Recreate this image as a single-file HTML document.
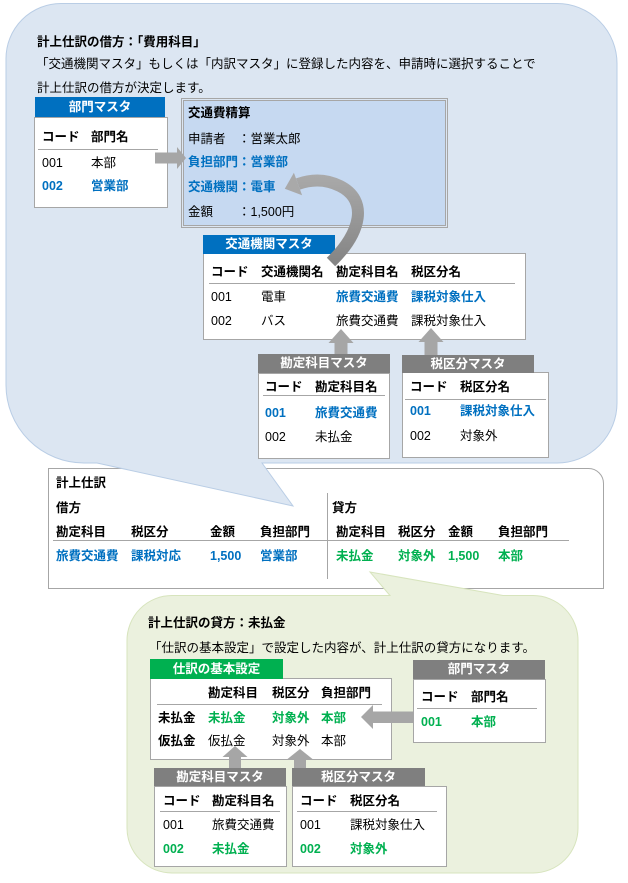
<!DOCTYPE html>
<html><head><meta charset="utf-8">
<style>
html,body{margin:0;padding:0;background:#fff;}
body{width:628px;height:883px;position:relative;overflow:hidden;font-family:"Liberation Sans","Noto Sans CJK JP",sans-serif;color:#000;}
.t{position:absolute;white-space:nowrap;font-size:12.5px;line-height:16px;height:16px;z-index:3;}
.b{font-weight:bold;}
.bl{color:#0070c0;font-weight:bold;}
.gr{color:#00b050;font-weight:bold;}
.h{position:absolute;color:#fff;font-weight:bold;font-size:12.5px;text-align:center;white-space:nowrap;z-index:2;}
.hb{background:#0070c0;}
.hg{background:#7f7f7f;}
.hn{background:#00b050;}
.bx{position:absolute;background:#fff;border:1px solid #a6a6a6;box-sizing:border-box;z-index:1;}
.ln{position:absolute;height:1px;background:#a6a6a6;z-index:2;}
svg{position:absolute;left:0;top:0;}
</style></head><body>

<svg width="628" height="883" style="z-index:0">
  <path d="M48.5,468.5 H588.5 A15 15 0 0 1 603.5,483.5 V588.5 H48.5 Z" fill="#fff" stroke="#a6a6a6"/>
  <path d="M61,3.5 H557 A60 60 0 0 1 617,63.5 V403 A60 60 0 0 1 557,463 H262 L293,506 L97,463 H84 A78 78 0 0 1 6,385 V58.5 A55 55 0 0 1 61,3.5 Z" fill="#dce6f2" stroke="#b9cde5"/>
  <path d="M172,595.5 H390 L370,572 L503,595.5 H533 A45 45 0 0 1 578,640.5 V828 A45 45 0 0 1 533,873 H172 A45 45 0 0 1 127,828 V640.5 A45 45 0 0 1 172,595.5 Z" fill="#ebf1de" stroke="#d7e4bd"/>
</svg>

<!-- top bubble text -->
<div class="t b" style="left:37px;top:34px">計上仕訳の借方：「費用科目」</div>
<div class="t" style="left:36px;top:56px">「交通機関マスタ」もしくは「内訳マスタ」に登録した内容を、申請時に選択することで</div>
<div class="t" style="left:37px;top:80px">計上仕訳の借方が決定します。</div>

<!-- 部門マスタ (blue) -->
<div class="h hb" style="left:35px;top:97px;width:130px;height:20px;line-height:20px">部門マスタ</div>
<div class="bx" style="left:34px;top:117px;width:134px;height:91px"></div>
<div class="t b" style="left:42px;top:129px">コード</div>
<div class="t b" style="left:91px;top:129px">部門名</div>
<div class="ln" style="left:38px;top:149px;width:120px"></div>
<div class="t" style="left:42px;top:155px">001</div>
<div class="t" style="left:91px;top:155px">本部</div>
<div class="t bl" style="left:42px;top:178px">002</div>
<div class="t bl" style="left:91px;top:178px">営業部</div>

<!-- 交通費精算 -->
<div style="position:absolute;left:181px;top:98px;width:267px;height:130px;box-sizing:border-box;border:3px double #a6a6a6;background:#c6d9f1;background-clip:padding-box;z-index:1"></div>
<div class="t b" style="left:188px;top:105px">交通費精算</div>
<div class="t" style="left:188px;top:131px">申請者　：営業太郎</div>
<div class="t bl" style="left:188px;top:154px">負担部門：営業部</div>
<div class="t bl" style="left:188px;top:179px">交通機関：電車</div>
<div class="t" style="left:188px;top:204px">金額　　：1,500円</div>

<!-- 交通機関マスタ -->
<div class="h hb" style="left:203px;top:235px;width:132px;height:19px;line-height:19px">交通機関マスタ</div>
<div class="bx" style="left:203px;top:253px;width:323px;height:87px"></div>
<div class="t b" style="left:211px;top:264px">コード</div>
<div class="t b" style="left:261px;top:264px">交通機関名</div>
<div class="t b" style="left:336px;top:264px">勘定科目名</div>
<div class="t b" style="left:411px;top:264px">税区分名</div>
<div class="ln" style="left:209px;top:283px;width:306px"></div>
<div class="t" style="left:211px;top:289px">001</div>
<div class="t" style="left:261px;top:289px">電車</div>
<div class="t bl" style="left:336px;top:289px">旅費交通費</div>
<div class="t bl" style="left:411px;top:289px">課税対象仕入</div>
<div class="t" style="left:211px;top:313px">002</div>
<div class="t" style="left:261px;top:313px">バス</div>
<div class="t" style="left:336px;top:313px">旅費交通費</div>
<div class="t" style="left:411px;top:313px">課税対象仕入</div>

<!-- 勘定科目マスタ top -->
<div class="h hg" style="left:258px;top:354px;width:132px;height:19px;line-height:19px">勘定科目マスタ</div>
<div class="bx" style="left:258px;top:373px;width:132px;height:86px"></div>
<div class="t b" style="left:265px;top:379px">コード</div>
<div class="t b" style="left:315px;top:379px">勘定科目名</div>
<div class="ln" style="left:263px;top:395px;width:122px"></div>
<div class="t bl" style="left:265px;top:405px">001</div>
<div class="t bl" style="left:315px;top:405px">旅費交通費</div>
<div class="t" style="left:265px;top:429px">002</div>
<div class="t" style="left:315px;top:429px">未払金</div>

<!-- 税区分マスタ top -->
<div class="h hg" style="left:402px;top:355px;width:132px;height:18px;line-height:18px">税区分マスタ</div>
<div class="bx" style="left:402px;top:372px;width:147px;height:86px"></div>
<div class="t b" style="left:410px;top:379px">コード</div>
<div class="t b" style="left:460px;top:379px">税区分名</div>
<div class="ln" style="left:405px;top:399px;width:141px"></div>
<div class="t bl" style="left:410px;top:403px">001</div>
<div class="t bl" style="left:460px;top:403px">課税対象仕入</div>
<div class="t" style="left:410px;top:428px">002</div>
<div class="t" style="left:460px;top:428px">対象外</div>

<!-- 計上仕訳 -->
<div class="t b" style="left:56px;top:475px">計上仕訳</div>
<div class="t b" style="left:56px;top:500px">借方</div>
<div class="t b" style="left:332px;top:500px">貸方</div>
<div class="t b" style="left:56px;top:524px">勘定科目</div>
<div class="t b" style="left:131px;top:524px">税区分</div>
<div class="t b" style="left:210px;top:524px">金額</div>
<div class="t b" style="left:260px;top:524px">負担部門</div>
<div class="t b" style="left:336px;top:524px">勘定科目</div>
<div class="t b" style="left:398px;top:524px">税区分</div>
<div class="t b" style="left:448px;top:524px">金額</div>
<div class="t b" style="left:498px;top:524px">負担部門</div>
<div class="ln" style="left:53px;top:540px;width:516px"></div>
<div style="position:absolute;left:327px;top:493px;width:1px;height:86px;background:#a6a6a6;z-index:2"></div>
<div class="t bl" style="left:56px;top:548px">旅費交通費</div>
<div class="t bl" style="left:131px;top:548px">課税対応</div>
<div class="t bl" style="left:210px;top:548px">1,500</div>
<div class="t bl" style="left:260px;top:548px">営業部</div>
<div class="t gr" style="left:336px;top:548px">未払金</div>
<div class="t gr" style="left:398px;top:548px">対象外</div>
<div class="t gr" style="left:448px;top:548px">1,500</div>
<div class="t gr" style="left:498px;top:548px">本部</div>

<!-- green bubble text -->
<div class="t b" style="left:148px;top:615px">計上仕訳の貸方：未払金</div>
<div class="t" style="left:149px;top:640px">「仕訳の基本設定」で設定した内容が、計上仕訳の貸方になります。</div>

<!-- 仕訳の基本設定 -->
<div class="h hn" style="left:150px;top:659px;width:133px;height:20px;line-height:20px">仕訳の基本設定</div>
<div class="bx" style="left:150px;top:678px;width:242px;height:82px"></div>
<div class="t b" style="left:208px;top:685px">勘定科目</div>
<div class="t b" style="left:272px;top:685px">税区分</div>
<div class="t b" style="left:321px;top:685px">負担部門</div>
<div class="ln" style="left:157px;top:704px;width:225px"></div>
<div class="t b" style="left:158px;top:710px">未払金</div>
<div class="t gr" style="left:208px;top:710px">未払金</div>
<div class="t gr" style="left:272px;top:710px">対象外</div>
<div class="t gr" style="left:321px;top:710px">本部</div>
<div class="t b" style="left:158px;top:733px">仮払金</div>
<div class="t" style="left:208px;top:733px">仮払金</div>
<div class="t" style="left:272px;top:733px">対象外</div>
<div class="t" style="left:321px;top:733px">本部</div>

<!-- 部門マスタ gray -->
<div class="h hg" style="left:413px;top:660px;width:132px;height:19px;line-height:19px">部門マスタ</div>
<div class="bx" style="left:413px;top:679px;width:133px;height:64px"></div>
<div class="t b" style="left:421px;top:689px">コード</div>
<div class="t b" style="left:471px;top:689px">部門名</div>
<div class="ln" style="left:417px;top:708px;width:120px"></div>
<div class="t gr" style="left:421px;top:714px">001</div>
<div class="t gr" style="left:471px;top:714px">本部</div>

<!-- 勘定科目マスタ bottom -->
<div class="h hg" style="left:154px;top:768px;width:132px;height:18px;line-height:18px">勘定科目マスタ</div>
<div class="bx" style="left:154px;top:786px;width:133px;height:81px"></div>
<div class="t b" style="left:163px;top:793px">コード</div>
<div class="t b" style="left:212px;top:793px">勘定科目名</div>
<div class="ln" style="left:160px;top:811px;width:120px"></div>
<div class="t" style="left:163px;top:817px">001</div>
<div class="t" style="left:212px;top:817px">旅費交通費</div>
<div class="t gr" style="left:163px;top:841px">002</div>
<div class="t gr" style="left:212px;top:841px">未払金</div>

<!-- 税区分マスタ bottom -->
<div class="h hg" style="left:292px;top:768px;width:133px;height:18px;line-height:18px">税区分マスタ</div>
<div class="bx" style="left:292px;top:786px;width:155px;height:81px"></div>
<div class="t b" style="left:300px;top:793px">コード</div>
<div class="t b" style="left:350px;top:793px">税区分名</div>
<div class="ln" style="left:297px;top:811px;width:140px"></div>
<div class="t" style="left:300px;top:817px">001</div>
<div class="t" style="left:350px;top:817px">課税対象仕入</div>
<div class="t gr" style="left:300px;top:841px">002</div>
<div class="t gr" style="left:350px;top:841px">対象外</div>

<!-- arrows -->
<svg width="628" height="883" style="z-index:5">
  <defs>
    <linearGradient id="cg" gradientUnits="userSpaceOnUse" x1="0" y1="172" x2="0" y2="262">
      <stop offset="0" stop-color="#ababab"/>
      <stop offset="1" stop-color="#858585"/>
    </linearGradient>
  </defs>
  <g fill="#a6a6a6">
    <polygon points="155,152.5 177,152.5 177,147 186,158 177,169 177,163.5 155,163.5"/>
    <polygon points="341,329 353.5,343 347.5,343 347.5,354 334.5,354 334.5,343 328.5,343"/>
    <polygon points="431,328 443.5,342 437.5,342 437.5,355 424.5,355 424.5,342 418.5,342"/>
    <polygon points="361,717 373,705 373,711.5 413,711.5 413,723 373,723 373,729"/>
    <polygon points="235,746 247.5,757 241,757 241,768 229,768 229,757 222.5,757"/>
    <polygon points="300,749 312.5,759 306,759 306,768 294,768 294,759 287.5,759"/>
  </g>
  <path d="M331,262 C362,232 368,200 340,186 C326,179 312,179 298,184" fill="none" stroke="url(#cg)" stroke-width="12"/>
  <polygon points="284.8,188.7 293.9,172.7 302.1,195.3" fill="#a9a9a9"/>
</svg>

</body></html>
